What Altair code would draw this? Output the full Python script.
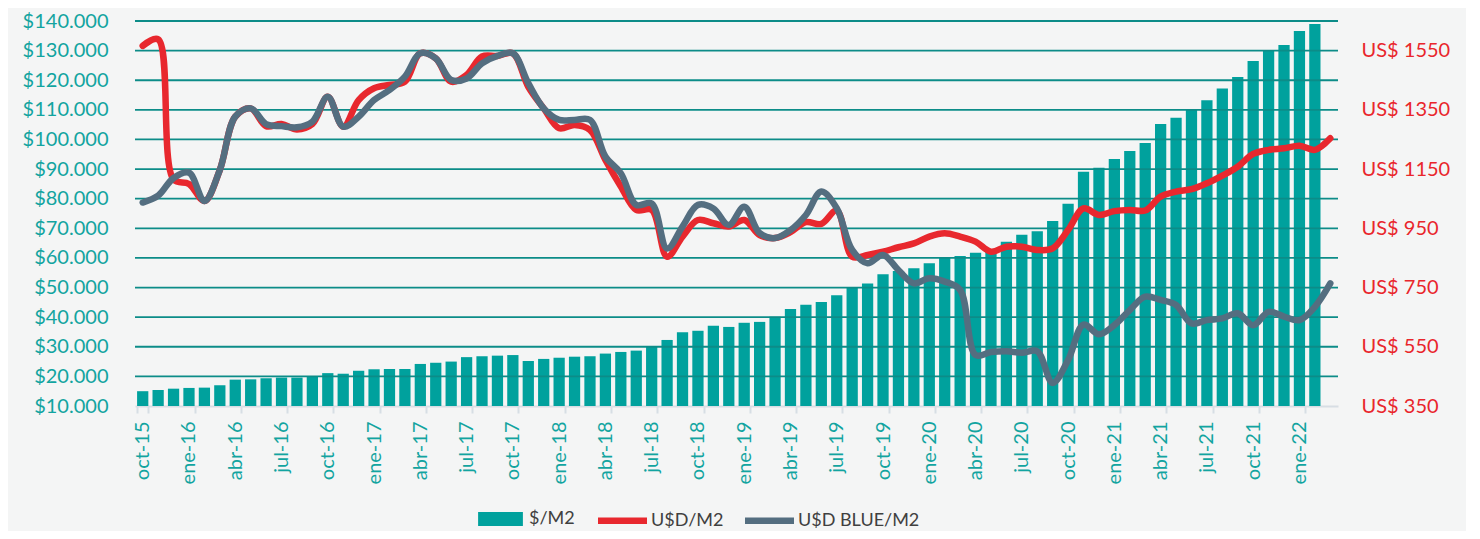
import altair as alt
import pandas as pd

MESES = [
    "oct-15", "nov-15", "dic-15",
    "ene-16", "feb-16", "mar-16", "abr-16", "may-16", "jun-16", "jul-16", "ago-16", "sep-16", "oct-16", "nov-16", "dic-16",
    "ene-17", "feb-17", "mar-17", "abr-17", "may-17", "jun-17", "jul-17", "ago-17", "sep-17", "oct-17", "nov-17", "dic-17",
    "ene-18", "feb-18", "mar-18", "abr-18", "may-18", "jun-18", "jul-18", "ago-18", "sep-18", "oct-18", "nov-18", "dic-18",
    "ene-19", "feb-19", "mar-19", "abr-19", "may-19", "jun-19", "jul-19", "ago-19", "sep-19", "oct-19", "nov-19", "dic-19",
    "ene-20", "feb-20", "mar-20", "abr-20", "may-20", "jun-20", "jul-20", "ago-20", "sep-20", "oct-20", "nov-20", "dic-20",
    "ene-21", "feb-21", "mar-21", "abr-21", "may-21", "jun-21", "jul-21", "ago-21", "sep-21", "oct-21", "nov-21", "dic-21",
    "ene-22", "feb-22", "mar-22",
]

# $/M2 (pesos) - last month has no bar
PESOS_M2 = [
    15000, 15400, 15850, 16100, 16200, 17000, 18900, 19000, 19350, 19600,
    19600, 20100, 21100, 20900, 21900, 22400, 22500, 22500, 24200, 24600,
    25000, 26500, 26800, 27000, 27200, 25200, 25900, 26300, 26650, 26800,
    27700, 28250, 28700, 30050, 32300, 34900, 35400, 37100, 36700, 38100,
    38400, 40150, 42750, 44200, 45100, 47400, 49950, 51400, 54450, 55600,
    56500, 58200, 60100, 60650, 61750, 62500, 65500, 67850, 69000, 72450,
    78300, 89100, 90450, 93400, 96100, 98800, 105200, 107350, 109950, 113200,
    117250, 121100, 126500, 129850, 131900, 136600, 139000, None,
]

# U$D/M2
USD_M2 = [
    1566, 1588, 1115, 1100, 1042, 1147, 1327, 1355, 1295, 1302,
    1284, 1302, 1394, 1293, 1383, 1423, 1434, 1445, 1541, 1524,
    1445, 1468, 1530, 1532, 1541, 1428, 1355, 1288, 1299, 1282,
    1181, 1091, 1012, 1012, 854, 922, 978, 967, 956, 978,
    927, 917, 937, 971, 965, 1010, 854, 860, 871, 886,
    899, 922, 933, 922, 905, 871, 888, 888, 877, 882,
    944, 1017, 995, 1008, 1012, 1010, 1057, 1074, 1082, 1102,
    1128, 1158, 1201, 1215, 1220, 1229, 1215, 1254,
]

# U$D BLUE/M2
USD_BLUE_M2 = [
    1037, 1060, 1120, 1138, 1042, 1147, 1327, 1355, 1302, 1295,
    1291, 1310, 1394, 1293, 1327, 1383, 1417, 1462, 1541, 1524,
    1451, 1456, 1507, 1532, 1541, 1440, 1355, 1316, 1316, 1316,
    1192, 1136, 1029, 1034, 882, 956, 1029, 1017, 961, 1023,
    934, 917, 944, 995, 1074, 1018, 877, 832, 860, 809,
    764, 781, 770, 742, 522, 532, 535, 530, 535, 428,
    505, 625, 592, 623, 674, 719, 708, 691, 629, 640,
    646, 663, 623, 668, 652, 640, 685, 764,
]

TICK_MESES = MESES[::3]
LEFT_TICKS = [10000, 20000, 30000, 40000, 50000, 60000, 70000, 80000, 90000, 100000, 110000, 120000, 130000, 140000]
GRID_VALUES = LEFT_TICKS[1:]
RIGHT_TICKS = [350, 550, 750, 950, 1150, 1350, 1550]
SERIES = ["$/M2", "U$D/M2", "U$D BLUE/M2"]

TEAL = "#00A19D"
TEAL_TEXT = "#12A4A0"
GRID = "#0C8C88"
RED = "#E8282E"
RED_TEXT = "#E9262C"
SLATE = "#546E80"
AXIS_GRAY = "#D7DEE4"
BG = "#F4F5F5"
FONT = "Lato"

df = pd.DataFrame({"mes": MESES, "pesos": PESOS_M2, "usd": USD_M2, "blue": USD_BLUE_M2})
grid_df = pd.DataFrame({"v": GRID_VALUES})

x_scale = alt.Scale(domain=MESES, paddingInner=0.27, paddingOuter=0.135)
x_axis = alt.Axis(
    values=TICK_MESES, labelAngle=-90, labelColor=TEAL_TEXT, labelFontSize=20, labelFont=FONT,
    tickBand="extent", tickColor=AXIS_GRAY, tickWidth=2, tickSize=7, labelPadding=8,
    domainColor=AXIS_GRAY, domainWidth=2, grid=False, title=None, labelOverlap=False,
)
left_scale = alt.Scale(domain=[10000, 140000], nice=False, zero=False)
left_axis = alt.Axis(
    values=LEFT_TICKS, orient="left", grid=False, ticks=False, tickSize=0, domain=False,
    labelColor=TEAL_TEXT, labelFontSize=20, labelFont=FONT, labelPadding=27,
    labelExpr='"$" + replace(format(datum.value, ",.0f"), ",", ".")', title=None,
)
right_scale = alt.Scale(domain=[350, 1650], nice=False, zero=False)
right_axis = alt.Axis(
    values=RIGHT_TICKS, orient="right", grid=False, ticks=False, tickSize=0, domain=False,
    labelColor=RED_TEXT, labelFontSize=20, labelFont=FONT, labelPadding=23,
    labelExpr='"US$ " + datum.value', title=None,
)

fill_scale = alt.Scale(domain=[SERIES[0]], range=[TEAL])
stroke_scale = alt.Scale(domain=SERIES[1:], range=[RED, SLATE])

fill_legend = alt.Legend(
    title=None, orient="none", legendX=356.5, legendY=489, direction="horizontal",
    symbolType="M-3.2,-1H3.2V1H-3.2Z", symbolSize=196, symbolStrokeWidth=0,
    labelOffset=19.5, labelFont=FONT, labelFontSize=18, labelColor="#404040",
)
stroke_legend = alt.Legend(
    title=None, orient="none", legendX=477, legendY=489, direction="horizontal",
    symbolType="M-3.5,0H3.5", symbolSize=196, symbolStrokeWidth=6.5,
    labelOffset=18, labelFont=FONT, labelFontSize=18, labelColor="#404040",
    columnPadding=8,
)

bars = alt.Chart(df).transform_calculate(serie="'$/M2'").mark_bar().encode(
    x=alt.X("mes:N", scale=x_scale, sort=MESES, axis=x_axis),
    y=alt.Y("pesos:Q", scale=left_scale, axis=left_axis),
    y2=alt.datum(10000),
    fill=alt.Fill("serie:N", scale=fill_scale, legend=fill_legend),
)

grid = alt.Chart(grid_df).mark_rule(color=GRID, strokeWidth=1.8).encode(
    y=alt.Y("v:Q", scale=left_scale, axis=left_axis),
)

line_usd = alt.Chart(df).transform_calculate(serie2="'U$D/M2'").mark_line(
    strokeWidth=6.5, interpolate="catmull-rom", strokeCap="round", strokeJoin="round"
).encode(
    x=alt.X("mes:N", scale=x_scale, sort=MESES, axis=x_axis),
    y=alt.Y("usd:Q", scale=right_scale, axis=right_axis),
    stroke=alt.Stroke("serie2:N", scale=stroke_scale, legend=stroke_legend),
)

line_blue = alt.Chart(df).transform_calculate(serie2="'U$D BLUE/M2'").mark_line(
    strokeWidth=6.5, interpolate="catmull-rom", strokeCap="round", strokeJoin="round"
).encode(
    x=alt.X("mes:N", scale=x_scale, sort=MESES, axis=x_axis),
    y=alt.Y("blue:Q", scale=right_scale, axis=right_axis),
    stroke=alt.Stroke("serie2:N", scale=stroke_scale, legend=stroke_legend),
)

chart = alt.layer(
    alt.layer(bars, grid),
    alt.layer(line_usd, line_blue),
).resolve_scale(y="independent").properties(
    width=1203, height=385,
    padding={"left": 127, "top": 13, "right": 128, "bottom": 125},
    autosize=alt.AutoSizeParams(type="none"),
    background=BG,
).configure_view(stroke=None).configure_axis(labelFont=FONT)

chart.save("out.html", embed_options={"renderer": "svg", "actions": False})
